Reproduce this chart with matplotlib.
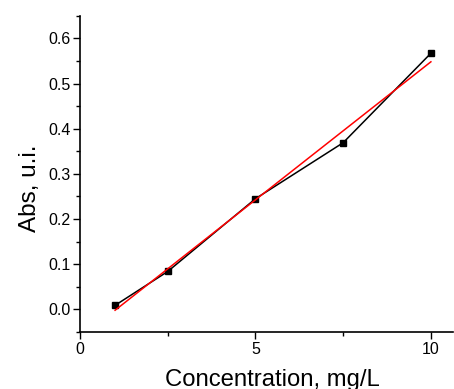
import matplotlib
matplotlib.use("Agg")
import matplotlib.pyplot as plt
import numpy as np
from matplotlib.ticker import MultipleLocator

plt.rcParams['font.family'] = ['Liberation Sans', 'DejaVu Sans']

conc = [1, 2.5, 5, 7.5, 10]
absorb = [0.009, 0.084, 0.245, 0.369, 0.567]

fig = plt.figure(figsize=(4.54, 3.89), dpi=100)
ax = fig.add_axes([0.1762, 0.1465, 0.8216, 0.813])

ax.plot(conc, absorb, color='black', lw=1.1, marker='s', ms=4.5, zorder=2)
slope, icpt = np.polyfit(conc, absorb, 1)
xf = np.array([conc[0], conc[-1]])
ax.plot(xf, slope * xf + icpt, color='red', lw=1.1, zorder=3)

ax.set_xlim(0, 10.63)
ax.set_ylim(-0.05, 0.65)
ax.xaxis.set_major_locator(MultipleLocator(5))
ax.xaxis.set_minor_locator(MultipleLocator(2.5))
ax.yaxis.set_major_locator(MultipleLocator(0.1))
ax.yaxis.set_minor_locator(MultipleLocator(0.05))
ax.yaxis.set_major_formatter(matplotlib.ticker.FormatStrFormatter('%.1f'))

for s in ['top', 'right']:
    ax.spines[s].set_visible(False)
for s in ['left', 'bottom']:
    ax.spines[s].set_linewidth(1.2)

ax.tick_params(which='major', direction='out', length=5, width=1, labelsize=11.5, pad=2)
ax.tick_params(which='minor', direction='out', length=3, width=1)

ax.set_xlabel('Concentration, mg/L', fontsize=17.2, labelpad=9)
ax.set_ylabel('Abs, u.i.', fontsize=17.5, labelpad=5)
ax.xaxis.label.set_x(0.517)
ax.yaxis.label.set_y(0.455)

fig.savefig('out.png', dpi=100)
